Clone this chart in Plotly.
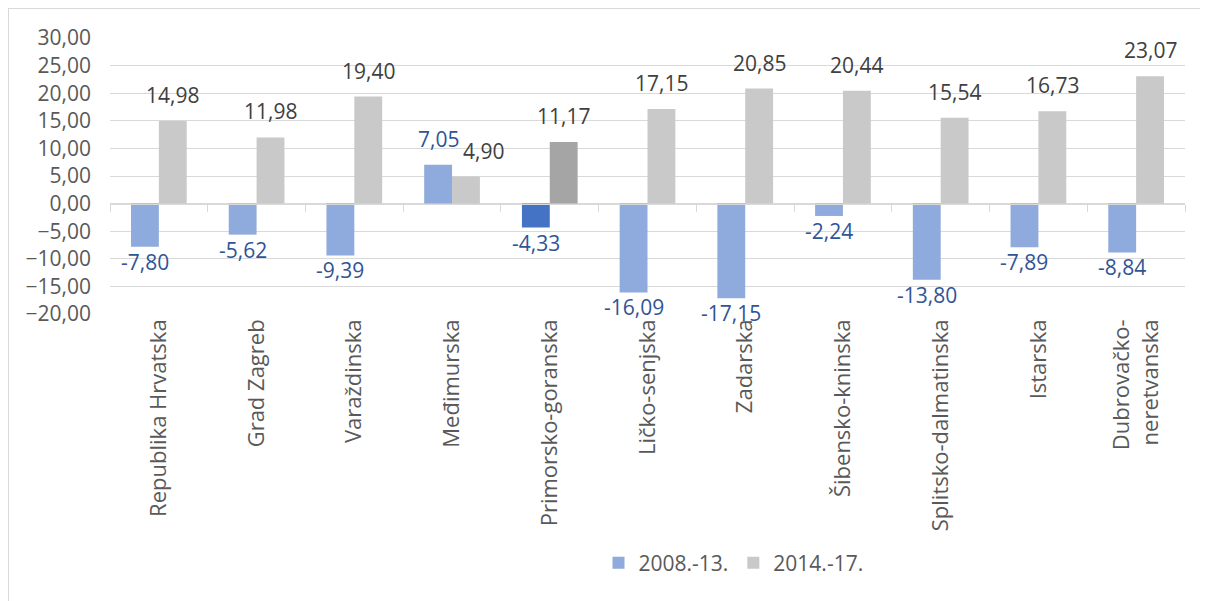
import plotly.graph_objects as go

categories = ["Republika Hrvatska", "Grad Zagreb", "Varaždinska", "Međimurska",
              "Primorsko-goranska", "Ličko-senjska", "Zadarska", "Šibensko-kninska",
              "Splitsko-dalmatinska", "Istarska", "Dubrovačko-<br>neretvanska"]
series_2008_13 = [-7.80, -5.62, -9.39, 7.05, -4.33, -16.09, -17.15, -2.24, -13.80, -7.89, -8.84]
series_2014_17 = [14.98, 11.98, 19.40, 4.90, 11.17, 17.15, 20.85, 20.44, 15.54, 16.73, 23.07]
series_names = ["2008.-13.", "2014.-17."]
y_ticks = [-20, -15, -10, -5, 0, 5, 10, 15, 20, 25, 30]
highlight = "Primorsko-goranska"

FONT = "Open Sans"
blue, blue_hi = "#8FAADC", "#4472C4"
grey, grey_hi = "#C9C9C9", "#A5A5A5"
label_blue, label_grey = "#2F5597", "#404040"

blue_colors = [blue_hi if c == highlight else blue for c in categories]
grey_colors = [grey_hi if c == highlight else grey for c in categories]

BARGAP = 0.43
half = (1 - BARGAP) / 4  # centre offset of each bar inside its category

fig = go.Figure()
fig.add_trace(go.Bar(
    x=categories, y=series_2008_13, name=series_names[0],
    marker=dict(color=blue_colors, line=dict(width=0)),
))
fig.add_trace(go.Bar(
    x=categories, y=series_2014_17, name=series_names[1],
    marker=dict(color=grey_colors, line=dict(width=0)),
))
# helper trace so the zero-line tick axis is drawn
fig.add_trace(go.Scatter(x=[], y=[], xaxis="x2", yaxis="y", showlegend=False, hoverinfo="skip"))

def fmt(v):
    return f"{v:.2f}".replace(".", ",")

annotations = []
for i, c in enumerate(categories):
    b, g = series_2008_13[i], series_2014_17[i]
    both_pos = b > 0 and g > 0
    for v, off, col, xs in ((b, -half, label_blue, 0), (g, half, label_grey, 18 if both_pos else 0)):
        annotations.append(dict(
            x=i + off, y=v, xref="x2", yref="y", text=fmt(v), showarrow=False,
            yanchor="bottom" if v >= 0 else "top",
            yshift=10 if v >= 0 else 1, xshift=xs,
            font=dict(family=FONT, size=21, color=col),
        ))

ymin, ymax = y_ticks[0], y_ticks[-1]
n = len(categories)
L, R, T, B = 102, 23, 30, 287
W, H = 1200, 593
pw, ph = W - L - R, H - T - B

fig.update_layout(
    width=W, height=H,
    margin=dict(l=L, r=R, t=T, b=B),
    paper_bgcolor="white", plot_bgcolor="white",
    separators=", ",
    barmode="group", bargap=BARGAP, bargroupgap=0,
    font=dict(family=FONT, size=19, color="#595959"),
    xaxis=dict(
        type="category", tickangle=-90, ticks="", showline=False, showgrid=False,
        tickfont=dict(family=FONT, size=22, color="#595959"),
        range=[-0.5, n - 0.5],
    ),
    xaxis2=dict(
        overlaying="x", anchor="free", position=(0 - ymin) / (ymax - ymin),
        range=[-0.5, n - 0.5], tickvals=[i - 0.5 for i in range(n + 1)],
        ticks="outside", ticklen=7, tickcolor="#D9D9D9", tickwidth=1.3,
        showticklabels=False, showgrid=False, showline=True, linecolor="#D9D9D9",
        linewidth=1.3, zeroline=False,
    ),
    yaxis=dict(
        range=[ymin, ymax], tickvals=y_ticks, tickformat=".2f",
        showgrid=True, gridcolor="#D9D9D9", gridwidth=1.3,
        zeroline=False, showline=False, ticks="", ticklabelstandoff=18,
        tickfont=dict(family=FONT, size=21, color="#595959"),
    ),
    legend=dict(
        orientation="h", x=0.58, xanchor="center", y=-(563 - 314) / ph,
        yanchor="middle",
        font=dict(family=FONT, size=21, color="#595959"),
        traceorder="normal",
    ),
    annotations=annotations,
    shapes=[dict(type="rect", xref="paper", yref="paper",
                 x0=-L / pw, x1=1 + R / pw + 0.05, y0=-B / ph - 0.1, y1=1 + T / ph,
                 line=dict(color="#D9D9D9", width=2), fillcolor="rgba(0,0,0,0)", layer="below")],
)

fig.write_html("out.html")
